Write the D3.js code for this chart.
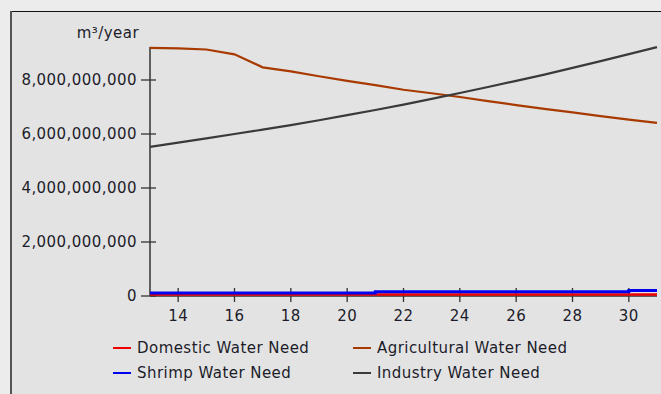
<!DOCTYPE html>
<html>
<head>
<meta charset="utf-8">
<script src="https://cdn.jsdelivr.net/npm/d3@7"></script>
<style>
    body { margin: 0; background: #ececec; }
    svg { display: block; }
    text { font-family: 'DejaVu Sans', Verdana, sans-serif; fill: #1c1c2a; letter-spacing: 0.45px; }
</style>
</head>
<body>
<div id="chart"></div>
<script>
// chart data
const years = [13, 14, 15, 16, 17, 18, 19, 20, 21, 22, 23, 24, 25, 26, 27, 28, 29, 30, 31];
const domesticNeed = [5.5e7, 5.5e7, 5.5e7, 5.5e7, 5.5e7, 5.5e7, 5.5e7, 5.5e7, 5.5e7, 5.5e7,
    5.5e7, 5.5e7, 5.5e7, 5.5e7, 5.5e7, 5.5e7, 5.5e7, 5.5e7, 5.5e7];
const shrimpNeed = [1.1e8, 1.1e8, 1.1e8, 1.1e8, 1.1e8, 1.1e8, 1.1e8, 1.1e8, 1.6e8, 1.6e8,
    1.6e8, 1.6e8, 1.6e8, 1.6e8, 1.6e8, 1.6e8, 1.6e8, 2.0e8, 2.0e8];
const agriculturalNeed = [9.19e9, 9.17e9, 9.13e9, 8.95e9, 8.47e9, 8.32e9, 8.14e9, 7.97e9, 7.81e9, 7.64e9,
    7.51e9, 7.37e9, 7.22e9, 7.07e9, 6.93e9, 6.80e9, 6.66e9, 6.53e9, 6.41e9];
const industryNeed = [5.52e9, 5.68e9, 5.84e9, 6.00e9, 6.16e9, 6.33e9, 6.51e9, 6.70e9, 6.89e9, 7.09e9,
    7.30e9, 7.52e9, 7.74e9, 7.97e9, 8.20e9, 8.45e9, 8.70e9, 8.96e9, 9.22e9];

const xTicks = [14, 16, 18, 20, 22, 24, 26, 28, 30];
const yTicks = [0, 2e9, 4e9, 6e9, 8e9];
const unitLabel = 'm³/year';

const seriesList = [
    { name: 'Domestic Water Need', values: domesticNeed, color: '#f00000', width: 2.5, step: true },
    { name: 'Shrimp Water Need', values: shrimpNeed, color: '#0000f0', width: 3, step: true },
    { name: 'Agricultural Water Need', values: agriculturalNeed, color: '#a83a00', width: 2.2, step: false },
    { name: 'Industry Water Need', values: industryNeed, color: '#3a3a3a', width: 2.2, step: false },
];

const WIDTH = 661;
const HEIGHT = 394;
const PLOT = { left: 150, right: 657, top: 47, bottom: 296 };

const svg = d3.select('#chart')
    .append('svg')
        .attr('width', WIDTH)
        .attr('height', HEIGHT);

// panel with frame on the left and top
svg.append('rect')
    .attr('x', 11)
    .attr('y', 11)
    .attr('width', WIDTH - 11)
    .attr('height', HEIGHT - 11)
    .attr('fill', '#e3e3e3');
svg.append('line')
    .attr('x1', 10).attr('x2', WIDTH)
    .attr('y1', 11.5).attr('y2', 11.5)
    .attr('stroke', '#111').attr('stroke-width', 1);
svg.append('line')
    .attr('x1', 11).attr('x2', 11)
    .attr('y1', 11).attr('y2', HEIGHT)
    .attr('stroke', '#555').attr('stroke-width', 2);

const x = d3.scaleLinear()
    .domain([13, 31])
    .range([PLOT.left, PLOT.right]);

const y = d3.scaleLinear()
    .domain([0, 2e9])
    .range([PLOT.bottom, PLOT.bottom - 54]);

// y axis
const yAxis = svg.append('g')
    .attr('transform', 'translate(' + PLOT.left + ',0)');
yAxis.append('line')
    .attr('x1', 0).attr('x2', 0)
    .attr('y1', PLOT.top).attr('y2', PLOT.bottom)
    .attr('stroke', '#333').attr('stroke-width', 1.5);
yAxis.selectAll('.ytick')
    .data(yTicks)
    .join('g')
        .attr('class', 'ytick')
        .attr('transform', (d) => 'translate(0,' + y(d) + ')')
        .each(function () {
            const g = d3.select(this);
            g.append('line')
                .attr('x1', -9).attr('x2', 6)
                .attr('stroke', '#333').attr('stroke-width', 1.3);
            g.append('text')
                .attr('x', -13)
                .attr('dy', '0.36em')
                .attr('text-anchor', 'end')
                .attr('font-size', 15)
                .text((d) => d3.format(',')(d));
        });

svg.append('text')
    .attr('x', 139)
    .attr('y', 38)
    .attr('text-anchor', 'end')
    .attr('font-size', 15)
    .text(unitLabel);

// x axis
const xAxis = svg.append('g')
    .attr('transform', 'translate(0,' + PLOT.bottom + ')');
xAxis.append('line')
    .attr('x1', PLOT.left).attr('x2', PLOT.right)
    .attr('stroke', '#333').attr('stroke-width', 1.5);
xAxis.selectAll('.xtick')
    .data(xTicks)
    .join('g')
        .attr('class', 'xtick')
        .attr('transform', (d) => 'translate(' + x(d) + ',0)')
        .each(function () {
            const g = d3.select(this);
            g.append('line')
                .attr('y1', -8).attr('y2', 6)
                .attr('stroke', '#333').attr('stroke-width', 1.3);
            g.append('text')
                .attr('y', 25)
                .attr('text-anchor', 'middle')
                .attr('font-size', 15)
                .text((d) => d);
        });

// the lines
seriesList.forEach((s) => {
    const line = d3.line()
        .x((d, i) => x(years[i]))
        .y((d) => y(d))
        .curve(s.step ? d3.curveStepAfter : d3.curveLinear);
    svg.append('path')
        .datum(s.values)
        .attr('fill', 'none')
        .attr('stroke', s.color)
        .attr('stroke-width', s.width)
        .attr('d', line);
});

// legend
const legendPos = [
    { x: 113, y: 348 },
    { x: 113, y: 373 },
    { x: 353, y: 348 },
    { x: 353, y: 373 },
];
seriesList.forEach((s, i) => {
    const g = svg.append('g')
        .attr('transform', 'translate(' + legendPos[i].x + ',' + legendPos[i].y + ')');
    g.append('line')
        .attr('x1', 0).attr('x2', 18)
        .attr('stroke', s.color)
        .attr('stroke-width', 2);
    g.append('text')
        .attr('x', 24)
        .attr('y', 5)
        .attr('font-size', 15)
        .text(s.name);
});
</script>
</body>
</html>
